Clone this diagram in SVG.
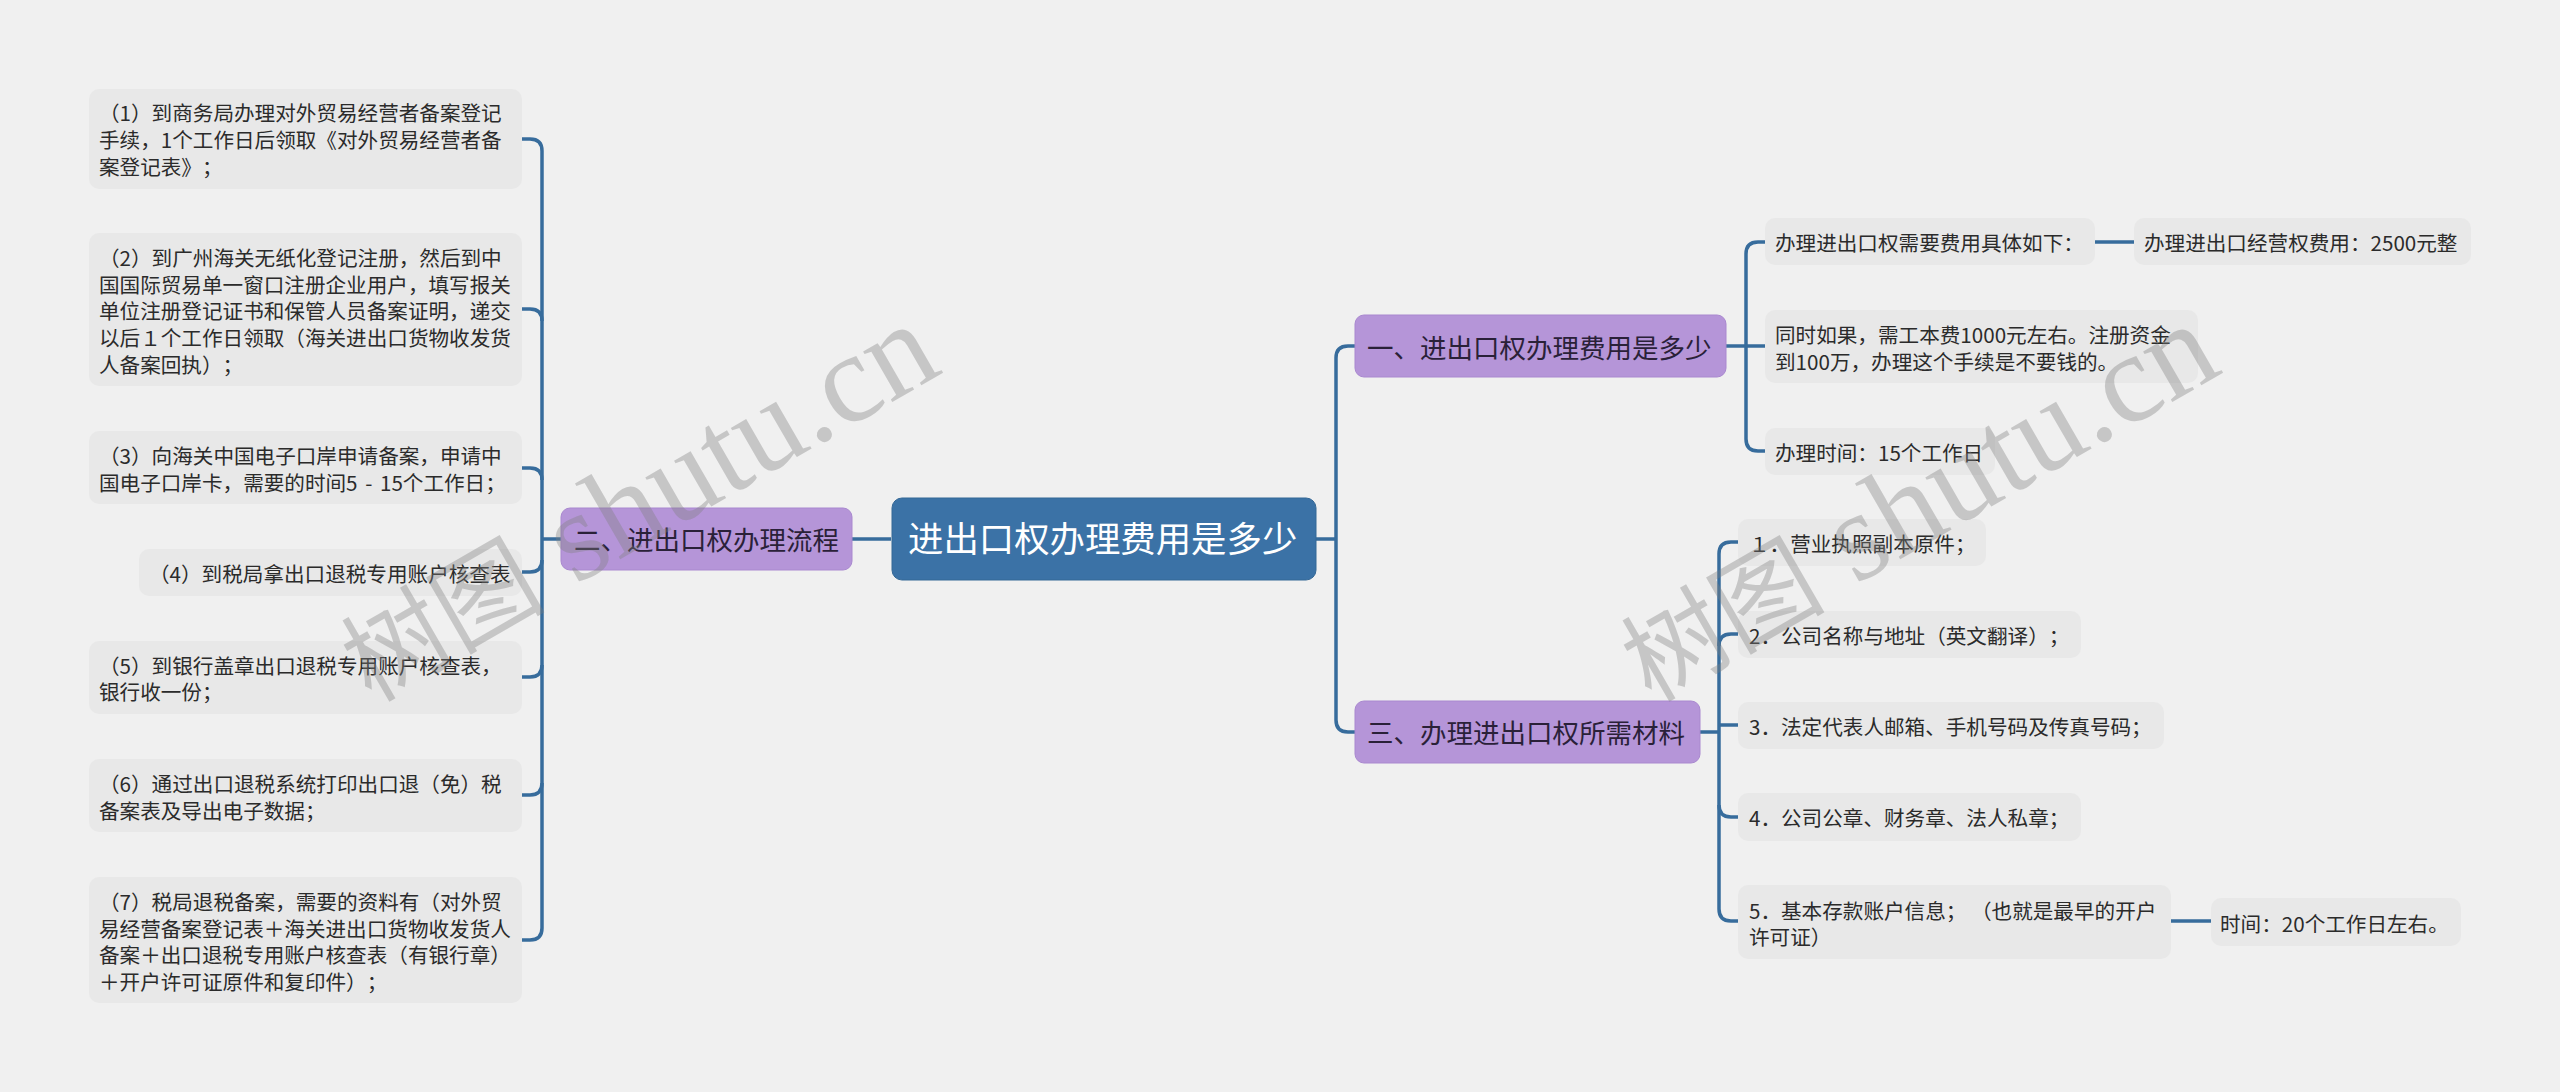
<svg xmlns="http://www.w3.org/2000/svg" width="2560" height="1092" viewBox="0 0 2560 1092">
<style>
text{font-family:"Noto Sans CJK SC","Noto Sans",sans-serif;text-spacing-trim:space-all;}
.leaf rect{fill:#e8e8e8;}
.leaf text{font-size:20.6px;fill:#2b2b2b;}
.branch rect{fill:#b595d8;stroke:#a988cf;stroke-width:1;}
.branch text{font-size:26.5px;fill:#2a2138;}
#root rect{fill:#3b72a6;stroke:#356896;stroke-width:1;}
#root text{font-size:35.4px;fill:#fff;}
#connectors path{fill:none;stroke:#376c9c;stroke-width:3.5;}
.wm{font-family:"Liberation Serif","Noto Sans CJK SC",serif;font-size:127px;fill:#808080;fill-opacity:.37;}
.wm tspan{font-family:"Noto Sans CJK SC",serif;font-size:102px;}
</style>
<rect width="2560" height="1092" fill="#f0f0f0"/>
<g id="connectors">
<path d="M891 539H852M561 539H542"/>
<path d="M522 139H530Q542 139 542 151V928Q542 940 530 940H522"/>
<path d="M522 309H530Q542 309 542 321"/>
<path d="M522 468H530Q542 468 542 480"/>
<path d="M522 572H530Q542 572 542 560"/>
<path d="M522 677H530Q542 677 542 665"/>
<path d="M522 795H530Q542 795 542 783"/>
<path d="M1316 539H1336"/>
<path d="M1355 346H1348Q1336 346 1336 358V720Q1336 732 1348 732H1355"/>
<path d="M1726 346H1765"/>
<path d="M1765 242H1758Q1746 242 1746 254V439Q1746 451 1758 451H1765"/>
<path d="M2095 242H2134"/>
<path d="M1738 542H1731Q1719 542 1719 554V909Q1719 921 1731 921H1738"/>
<path d="M1738 634H1731Q1719 634 1719 646"/>
<path d="M1700 732H1719M1719 725H1738"/>
<path d="M1738 817H1731Q1719 817 1719 805"/>
<path d="M2171 921H2211"/>
</g>
<g id="root"><rect x="892" y="498" width="424" height="82" rx="10"/><text x="908" y="552">进出口权办理费用是多少</text></g>
<g id="n2" class="branch"><rect x="561" y="508" width="291" height="62" rx="9"/><text x="574" y="550">二、进出口权办理流程</text></g>
<g id="n1" class="branch"><rect x="1355" y="315" width="371" height="62" rx="9"/><text x="1367" y="358">一、进出口权办理费用是多少</text></g>
<g id="n3" class="branch"><rect x="1355" y="701" width="345" height="62" rx="9"/><text x="1367" y="743">三、办理进出口权所需材料</text></g>
<g id="l1" class="leaf"><rect x="89" y="89" width="433" height="100" rx="10"/><text x="99" y="121">（1）到商务局办理对外贸易经营者备案登记</text><text x="99" y="148">手续，1个工作日后领取《对外贸易经营者备</text><text x="99" y="175">案登记表》；</text></g>
<g id="l2" class="leaf"><rect x="89" y="233" width="433" height="153" rx="10"/><text x="99" y="266">（2）到广州海关无纸化登记注册，然后到中</text><text x="99" y="293">国国际贸易单一窗口注册企业用户，填写报关</text><text x="99" y="319">单位注册登记证书和保管人员备案证明，递交</text><text x="99" y="346">以后１个工作日领取（海关进出口货物收发货</text><text x="99" y="373">人备案回执）；</text></g>
<g id="l3" class="leaf"><rect x="89" y="431" width="433" height="73" rx="10"/><text x="99" y="464">（3）向海关中国电子口岸申请备案，申请中</text><text x="99" y="491">国电子口岸卡，需要的时间5<tspan dx="3"> </tspan>-<tspan dx="3"> </tspan>15个工作日；</text></g>
<g id="l4" class="leaf"><rect x="139" y="549" width="383" height="47" rx="10"/><text x="149" y="582">（4）到税局拿出口退税专用账户核查表</text></g>
<g id="l5" class="leaf"><rect x="89" y="641" width="433" height="73" rx="10"/><text x="99" y="674">（5）到银行盖章出口退税专用账户核查表，</text><text x="99" y="700">银行收一份；</text></g>
<g id="l6" class="leaf"><rect x="89" y="759" width="433" height="73" rx="10"/><text x="99" y="792">（6）通过出口退税系统打印出口退（免）税</text><text x="99" y="819">备案表及导出电子数据；</text></g>
<g id="l7" class="leaf"><rect x="89" y="877" width="433" height="126" rx="10"/><text x="99" y="910">（7）税局退税备案，需要的资料有（对外贸</text><text x="99" y="937">易经营备案登记表＋海关进出口货物收发货人</text><text x="99" y="963">备案＋出口退税专用账户核查表（有银行章）</text><text x="99" y="990">＋开户许可证原件和复印件）；</text></g>
<g id="r1" class="leaf"><rect x="1765" y="218" width="330" height="47" rx="10"/><text x="1775" y="251">办理进出口权需要费用具体如下：</text></g>
<g id="r1a" class="leaf"><rect x="2134" y="218" width="337" height="47" rx="10"/><text x="2144" y="251">办理进出口经营权费用：2500元整</text></g>
<g id="r2" class="leaf"><rect x="1765" y="310" width="433" height="73" rx="10"/><text x="1775" y="343">同时如果，需工本费1000元左右。注册资金</text><text x="1775" y="370">到100万，办理这个手续是不要钱的。</text></g>
<g id="r3" class="leaf"><rect x="1765" y="428" width="230" height="47" rx="10"/><text x="1775" y="461">办理时间：15个工作日</text></g>
<g id="m1" class="leaf"><rect x="1738" y="519" width="248" height="47" rx="10"/><text x="1749" y="552">１．营业执照副本原件；</text></g>
<g id="m2" class="leaf"><rect x="1738" y="611" width="343" height="47" rx="10"/><text x="1749" y="644">2．公司名称与地址（英文翻译）；</text></g>
<g id="m3" class="leaf"><rect x="1738" y="702" width="426" height="47" rx="10"/><text x="1749" y="735">3．法定代表人邮箱、手机号码及传真号码；</text></g>
<g id="m4" class="leaf"><rect x="1738" y="793" width="343" height="48" rx="10"/><text x="1749" y="826">4．公司公章、财务章、法人私章；</text></g>
<g id="m5" class="leaf"><rect x="1738" y="885" width="433" height="74" rx="10"/><text x="1749" y="919">5．基本存款账户信息； （也就是最早的开户</text><text x="1749" y="945">许可证）</text></g>
<g id="m5a" class="leaf"><rect x="2211" y="898" width="250" height="48" rx="10"/><text x="2220" y="932">时间：20个工作日左右。</text></g>
<g id="watermark">
<text class="wm" transform="translate(371 703) rotate(-30)"><tspan>树图</tspan> shutu.cn</text>
<text class="wm" transform="translate(1651 703) rotate(-30)"><tspan>树图</tspan> shutu.cn</text>
</g>
</svg>
